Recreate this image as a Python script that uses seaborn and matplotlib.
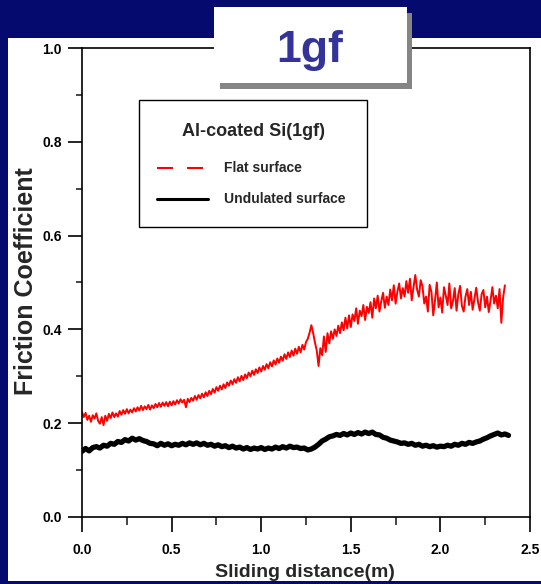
import numpy as np
import matplotlib
matplotlib.use("Agg")
import matplotlib.pyplot as plt
import seaborn as sns
from matplotlib.patches import Rectangle
from matplotlib.lines import Line2D
from matplotlib.ticker import MultipleLocator

# ---------------- data ----------------
panel_title = "1gf"
legend_title = "Al-coated Si(1gf)"
series_names = ["Flat surface", "Undulated surface"]
x_label = "Sliding distance(m)"
y_label = "Friction Coefficient"
x_ticks = [0.0, 0.5, 1.0, 1.5, 2.0, 2.5]
y_ticks = [0.0, 0.2, 0.4, 0.6, 0.8, 1.0]

flat_x_step = 0.01
flat_cof = [
    0.224, 0.213, 0.222, 0.207, 0.216, 0.203, 0.217, 0.210, 0.221, 0.205,
    0.199, 0.213, 0.196, 0.216, 0.205, 0.220, 0.211, 0.223, 0.213, 0.221,
    0.214, 0.226, 0.218, 0.228, 0.220, 0.230, 0.221, 0.229, 0.223, 0.232,
    0.225, 0.234, 0.227, 0.237, 0.228, 0.236, 0.230, 0.239, 0.229, 0.238,
    0.232, 0.241, 0.234, 0.243, 0.235, 0.244, 0.237, 0.245, 0.236, 0.246,
    0.238, 0.247, 0.240, 0.249, 0.242, 0.251, 0.244, 0.250, 0.234, 0.252,
    0.245, 0.254, 0.248, 0.258, 0.250, 0.260, 0.253, 0.263, 0.255, 0.266,
    0.258, 0.269, 0.262, 0.273, 0.265, 0.277, 0.269, 0.280, 0.272, 0.283,
    0.275, 0.287, 0.280, 0.291, 0.283, 0.294, 0.286, 0.298, 0.289, 0.301,
    0.292, 0.304, 0.296, 0.308, 0.300, 0.312, 0.303, 0.315, 0.307, 0.319,
    0.310, 0.322, 0.314, 0.326, 0.317, 0.330, 0.321, 0.334, 0.325, 0.338,
    0.329, 0.342, 0.333, 0.347, 0.337, 0.351, 0.341, 0.355, 0.344, 0.359,
    0.348, 0.363, 0.351, 0.367, 0.357, 0.373, 0.380, 0.393, 0.409, 0.392,
    0.372, 0.355, 0.322, 0.360, 0.345, 0.385, 0.352, 0.392, 0.370, 0.396,
    0.380, 0.400, 0.386, 0.408, 0.392, 0.415, 0.398, 0.425, 0.402, 0.430,
    0.405, 0.432, 0.418, 0.445, 0.412, 0.440, 0.428, 0.452, 0.420, 0.448,
    0.435, 0.458, 0.425, 0.466, 0.445, 0.472, 0.438, 0.460, 0.478, 0.446,
    0.470, 0.452, 0.485, 0.462, 0.494, 0.455, 0.480, 0.498, 0.466, 0.488,
    0.470, 0.503, 0.478, 0.508, 0.462, 0.490, 0.516, 0.485, 0.470, 0.505,
    0.492, 0.455, 0.470, 0.438, 0.495, 0.480, 0.430, 0.462, 0.500, 0.447,
    0.468, 0.436, 0.490, 0.472, 0.452, 0.498, 0.445, 0.460, 0.488, 0.440,
    0.475, 0.493, 0.450, 0.438, 0.470, 0.486, 0.452, 0.480, 0.442, 0.466,
    0.489, 0.458, 0.440, 0.475, 0.484, 0.447, 0.470, 0.437, 0.462, 0.490,
    0.455, 0.472, 0.445, 0.486, 0.414, 0.468, 0.494,
]

undulated_x_step = 0.02
undulated_cof = [
    0.140, 0.146, 0.141, 0.148, 0.150, 0.147, 0.153, 0.151, 0.157, 0.155,
    0.161, 0.159, 0.165, 0.162, 0.168, 0.164, 0.167, 0.163, 0.161, 0.157,
    0.156, 0.152, 0.157, 0.153, 0.156, 0.152, 0.155, 0.153, 0.157, 0.154,
    0.158, 0.155, 0.158, 0.154, 0.157, 0.153, 0.155, 0.151, 0.154, 0.150,
    0.152, 0.148, 0.151, 0.147, 0.149, 0.145, 0.148, 0.144, 0.147, 0.145,
    0.148, 0.144, 0.147, 0.145, 0.149, 0.146, 0.150, 0.147, 0.151, 0.148,
    0.149, 0.146, 0.147, 0.143, 0.145, 0.149, 0.155, 0.162, 0.166, 0.171,
    0.173, 0.176, 0.174, 0.178, 0.175, 0.179, 0.176, 0.180, 0.177, 0.181,
    0.178, 0.181, 0.176, 0.175, 0.170, 0.168, 0.164, 0.162, 0.160, 0.157,
    0.158, 0.155, 0.157, 0.153, 0.155, 0.151, 0.153, 0.150, 0.152, 0.149,
    0.151, 0.150, 0.153, 0.151, 0.155, 0.153, 0.157, 0.155, 0.159, 0.157,
    0.160, 0.162, 0.166, 0.169, 0.173, 0.176, 0.179, 0.175, 0.177, 0.174,
]

flat_x = np.round(np.arange(len(flat_cof)) * flat_x_step, 3)
undulated_x = np.round(np.arange(len(undulated_cof)) * undulated_x_step, 3)

# ---------------- style ----------------
sns.set_style("ticks")
plt.rcParams["font.family"] = ["Liberation Sans", "DejaVu Sans"]
plt.rcParams["font.weight"] = "bold"
plt.rcParams["axes.labelweight"] = "bold"

W, H = 541, 584
fig = plt.figure(figsize=(W / 100, H / 100), dpi=100, facecolor="#050a6e")


def fx(px):
    return px / W


def fy(py):
    return 1 - py / H


# white slide panel
fig.add_artist(Rectangle((fx(8), fy(581)), fx(541) - fx(8), fy(38) - fy(581),
                         transform=fig.transFigure, facecolor="white",
                         edgecolor="none", zorder=-5))

ax_l, ax_r, ax_t, ax_b = 82, 530, 48, 517
ax = fig.add_axes([fx(ax_l), fy(ax_b), (ax_r - ax_l) / W, (ax_b - ax_t) / H])
ax.set_facecolor("white")

sns.lineplot(x=flat_x, y=flat_cof, ax=ax, color="#ff0000", linewidth=1.4,
             estimator=None, sort=False, legend=False)
sns.lineplot(x=undulated_x, y=undulated_cof, ax=ax, color="black", linewidth=3.8,
             estimator=None, sort=False, legend=False)

ax.set_xlim(0, 2.5)
ax.set_ylim(0, 1.0)
ax.set_xticks(x_ticks)
ax.set_yticks(y_ticks)
ax.set_xticklabels([f"{v:.1f}" for v in x_ticks])
ax.set_yticklabels([f"{v:.1f}" for v in y_ticks])
ax.xaxis.set_minor_locator(MultipleLocator(0.25))
ax.yaxis.set_minor_locator(MultipleLocator(0.1))

for s in ax.spines.values():
    s.set_visible(True)
    s.set_linewidth(1.2)
    s.set_color("black")

ax.tick_params(axis="x", which="major", direction="out", length=11, width=1.2,
               pad=8, labelsize=10, colors="black")
ax.tick_params(axis="x", which="minor", direction="out", length=6, width=1.2)
ax.tick_params(axis="y", which="major", direction="out", length=10, width=1.2,
               pad=4.5, labelsize=10, colors="black")
ax.tick_params(axis="y", which="minor", direction="out", length=4.5, width=1.2)
for lab in ax.get_xticklabels() + ax.get_yticklabels():
    lab.set_fontweight("bold")

ax.set_xlabel(x_label, fontsize=14, fontweight="bold", va="baseline")
ax.xaxis.set_label_coords((305 - ax_l) / (ax_r - ax_l), (ax_b - 577) / (ax_b - ax_t))
ax.set_ylabel(y_label, fontsize=18, fontweight="bold", va="baseline")
ax.yaxis.set_label_coords((33 - ax_l) / (ax_r - ax_l), (ax_b - 281) / (ax_b - ax_t))

# legend box (drawn as a framed key with title and two entries)
fig.add_artist(Rectangle((fx(139), fy(227)), fx(367) - fx(139), fy(100) - fy(227),
                         transform=fig.transFigure, facecolor="white",
                         edgecolor="black", linewidth=1.0, zorder=5))
fig.text(fx(253), fy(132), legend_title, fontsize=13, fontweight="bold",
         ha="center", va="center", zorder=6)
entry_y = [168, 199]
entry_styles = [dict(color="#ff0000", linewidth=1.5, dashes=(7.7, 6.7)),
                dict(color="black", linewidth=2.2)]
for name, ey, st in zip(series_names, entry_y, entry_styles):
    fig.add_artist(Line2D([fx(157), fx(208)], [fy(ey), fy(ey)],
                          transform=fig.transFigure, zorder=6, **st))
    fig.text(fx(224), fy(ey), name, fontsize=10, fontweight="bold",
             ha="left", va="center", zorder=6)

# "1gf" label box with shadow
fig.add_artist(Rectangle((fx(220), fy(89)), fx(412) - fx(220), fy(13) - fy(89),
                         transform=fig.transFigure, facecolor="#858585",
                         edgecolor="none", zorder=10))
fig.add_artist(Rectangle((fx(214), fy(83)), fx(407) - fx(214), fy(7) - fy(83),
                         transform=fig.transFigure, facecolor="white",
                         edgecolor="none", zorder=11))
fig.text(fx(310), fy(62), panel_title, fontsize=32, fontweight="bold",
         color="#333399", ha="center", va="baseline", zorder=12)

fig.savefig("out.png", dpi=100, facecolor=fig.get_facecolor())
